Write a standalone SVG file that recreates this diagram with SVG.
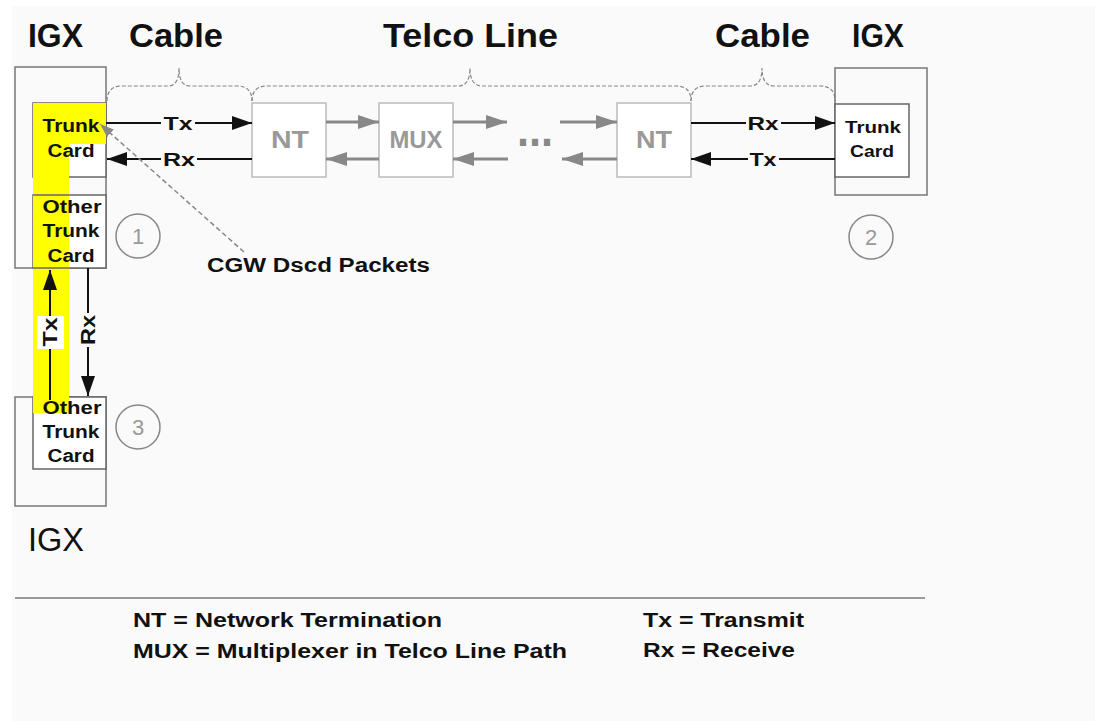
<svg xmlns="http://www.w3.org/2000/svg" width="1095" height="721" viewBox="0 0 1095 721">
<style>
text{font-family:"Liberation Sans",Arial,sans-serif;font-weight:bold;fill:#111}
.hdr{font-size:33px}
.card{font-size:18px;text-anchor:middle}
.lbl{font-size:19px;text-anchor:middle}
.vlbl{font-size:20px;text-anchor:middle}
.gtxt{font-size:24px;text-anchor:middle;fill:#999}
.num{font-size:22px;font-weight:normal;text-anchor:middle;fill:#999}
.leg{font-size:20px}
.outer{fill:none;stroke:#777;stroke-width:1.5}
.inner{fill:#fff;stroke:#666;stroke-width:1.5}
.tel{fill:#fff;stroke:#bbb;stroke-width:1.5}
.circ{fill:none;stroke:#888;stroke-width:1.5}
.brace{fill:none;stroke:#888;stroke-width:1.2;stroke-dasharray:4 2}
.blk{stroke:#111;stroke-width:2;fill:none}
.gry{stroke:#888;stroke-width:3;fill:none}
.bg{fill:#fafafa}
</style>
<defs>
<marker id="ab" markerUnits="userSpaceOnUse" markerWidth="20" markerHeight="14" refX="20" refY="7" orient="auto"><path d="M0,0 L20,7 L0,14 z" fill="#111"/></marker>
<marker id="ag" markerUnits="userSpaceOnUse" markerWidth="21" markerHeight="14" refX="21" refY="7" orient="auto"><path d="M0,0 L21,7 L0,14 z" fill="#888"/></marker>
<marker id="as" markerUnits="userSpaceOnUse" markerWidth="14" markerHeight="10" refX="14" refY="5" orient="auto"><path d="M0,0 L14,5 L0,10 z" fill="#888"/></marker>
</defs>
<rect x="0" y="0" width="1095" height="721" fill="#fff"/>
<rect x="12" y="6" width="1083" height="715" class="bg"/>

<g id="headers">
<text class="hdr" x="28" y="47" textLength="55" lengthAdjust="spacingAndGlyphs">IGX</text>
<text class="hdr" x="129" y="47" textLength="94" lengthAdjust="spacingAndGlyphs">Cable</text>
<text class="hdr" x="383" y="47" textLength="175" lengthAdjust="spacingAndGlyphs">Telco Line</text>
<text class="hdr" x="715" y="47" textLength="95" lengthAdjust="spacingAndGlyphs">Cable</text>
<text class="hdr" x="852" y="47" textLength="52" lengthAdjust="spacingAndGlyphs">IGX</text>
</g>

<g id="braces">
<path class="brace" d="M107,101 Q107,86 122,86 L168,86 Q179,86 179,68 Q179,86 190,86 L237,86 Q252,86 252,101"/>
<path class="brace" d="M252,101 Q252,86 267,86 L458,86 Q470,86 470,68 Q470,86 482,86 L676,86 Q691,86 691,101"/>
<path class="brace" d="M691,101 Q691,86 706,86 L750,86 Q762,86 762,68 Q762,86 774,86 L820,86 Q835,86 835,101"/>
</g>

<g id="igx1">
<rect class="outer" x="15" y="67" width="91" height="201"/>
<rect class="inner" x="33" y="103" width="73" height="74"/>
<rect class="inner" x="33" y="195" width="73" height="73"/>
</g>
<g id="igx3">
<rect class="outer" x="15" y="397" width="91" height="109"/>
<rect class="inner" x="33" y="397" width="73" height="72"/>
</g>
<g id="highlight">
<rect x="33" y="103" width="73" height="41" fill="#ffff00"/>
<rect x="33" y="144" width="36" height="269" fill="#ffff00"/>
<line x1="33" y1="195" x2="69" y2="195" stroke="#666" stroke-width="1.5"/>
<line x1="33" y1="268" x2="69" y2="268" stroke="#666" stroke-width="1.5"/>
</g>
<g id="igx1-text">
<text class="card" x="71" y="132" textLength="57" lengthAdjust="spacingAndGlyphs">Trunk</text>
<text class="card" x="71" y="157" textLength="47" lengthAdjust="spacingAndGlyphs">Card</text>
<text class="card" x="72" y="213" textLength="59" lengthAdjust="spacingAndGlyphs">Other</text>
<text class="card" x="71" y="237" textLength="57" lengthAdjust="spacingAndGlyphs">Trunk</text>
<text class="card" x="71" y="262" textLength="47" lengthAdjust="spacingAndGlyphs">Card</text>
</g>
<g id="igx3-text">
<text class="card" x="72" y="414" textLength="59" lengthAdjust="spacingAndGlyphs">Other</text>
<text class="card" x="71" y="438" textLength="57" lengthAdjust="spacingAndGlyphs">Trunk</text>
<text class="card" x="71" y="462" textLength="47" lengthAdjust="spacingAndGlyphs">Card</text>
<text x="28" y="551" style="font-size:33px;font-weight:normal" textLength="56" lengthAdjust="spacingAndGlyphs">IGX</text>
</g>

<g id="igx2">
<rect class="outer" x="835" y="68" width="92" height="127"/>
<rect class="inner" x="835" y="104" width="74" height="73"/>
<text class="card" x="873" y="133" style="font-size:17px" textLength="56" lengthAdjust="spacingAndGlyphs">Trunk</text>
<text class="card" x="872" y="157" style="font-size:17px" textLength="44" lengthAdjust="spacingAndGlyphs">Card</text>
</g>

<g id="nt1"><rect class="tel" x="252" y="103" width="74" height="74"/><text class="gtxt" x="290" y="148" textLength="38" lengthAdjust="spacingAndGlyphs">NT</text></g>
<g id="mux"><rect class="tel" x="379" y="103" width="74" height="74"/><text class="gtxt" x="416" y="148" textLength="53" lengthAdjust="spacingAndGlyphs">MUX</text></g>
<g id="nt2"><rect class="tel" x="617" y="103" width="74" height="74"/><text class="gtxt" x="654" y="148" textLength="36" lengthAdjust="spacingAndGlyphs">NT</text></g>
<g id="dots"><text x="517" y="146" style="font-size:48px;fill:#888" textLength="36" lengthAdjust="spacingAndGlyphs">...</text></g>

<g id="markers-num">
<circle class="circ" cx="138" cy="236" r="22"/><text class="num" x="138" y="244">1</text>
<circle class="circ" cx="871" cy="237" r="22"/><text class="num" x="871" y="245">2</text>
<circle class="circ" cx="138" cy="427" r="22"/><text class="num" x="138" y="435">3</text>
</g>

<g id="connectors">
<line class="blk" x1="106" y1="123" x2="252" y2="123" marker-end="url(#ab)"/>
<line class="blk" x1="252" y1="159" x2="107" y2="159" marker-end="url(#ab)"/>
<line class="gry" x1="326" y1="122" x2="379" y2="122" marker-end="url(#ag)"/>
<line class="gry" x1="379" y1="159" x2="326" y2="159" marker-end="url(#ag)"/>
<line class="gry" x1="453" y1="122" x2="507" y2="122" marker-end="url(#ag)"/>
<line class="gry" x1="508" y1="159" x2="453" y2="159" marker-end="url(#ag)"/>
<line class="gry" x1="560" y1="122" x2="617" y2="122" marker-end="url(#ag)"/>
<line class="gry" x1="617" y1="159" x2="562" y2="159" marker-end="url(#ag)"/>
<line class="blk" x1="691" y1="123" x2="835" y2="123" marker-end="url(#ab)"/>
<line class="blk" x1="835" y1="159" x2="691" y2="159" marker-end="url(#ab)"/>
<line class="blk" x1="50" y1="400" x2="50" y2="270" marker-end="url(#ab)"/>
<line class="blk" x1="88" y1="268" x2="88" y2="396" marker-end="url(#ab)"/>
<line x1="244" y1="252" x2="100" y2="124" stroke="#888" stroke-width="1.5" stroke-dasharray="5 3" marker-end="url(#as)"/>
</g>

<g id="connector-labels">
<rect x="161" y="113" width="34" height="20" class="bg"/>
<text class="lbl" x="178" y="130" textLength="29" lengthAdjust="spacingAndGlyphs">Tx</text>
<rect x="161" y="149" width="36" height="20" class="bg"/>
<text class="lbl" x="179" y="166" textLength="32" lengthAdjust="spacingAndGlyphs">Rx</text>
<rect x="746" y="113" width="35" height="20" class="bg"/>
<text class="lbl" x="763" y="130" textLength="31" lengthAdjust="spacingAndGlyphs">Rx</text>
<rect x="748" y="149" width="31" height="20" class="bg"/>
<text class="lbl" x="763" y="166" textLength="27" lengthAdjust="spacingAndGlyphs">Tx</text>
<rect x="37" y="316" width="27" height="33" fill="#fff"/>
<text class="vlbl" transform="translate(57,332) rotate(-90)" textLength="29" lengthAdjust="spacingAndGlyphs">Tx</text>
<rect x="78" y="313" width="20" height="34" class="bg"/>
<text class="vlbl" transform="translate(95,330) rotate(-90)" textLength="30" lengthAdjust="spacingAndGlyphs">Rx</text>
<text x="207" y="272" style="font-size:20px" textLength="223" lengthAdjust="spacingAndGlyphs">CGW Dscd Packets</text>
</g>

<g id="legend">
<line x1="15" y1="598" x2="925" y2="598" stroke="#999" stroke-width="2"/>
<text class="leg" x="133" y="627" textLength="309" lengthAdjust="spacingAndGlyphs">NT = Network Termination</text>
<text class="leg" x="133" y="658" textLength="434" lengthAdjust="spacingAndGlyphs">MUX = Multiplexer in Telco Line Path</text>
<text class="leg" x="643" y="627" textLength="161" lengthAdjust="spacingAndGlyphs">Tx = Transmit</text>
<text class="leg" x="643" y="657" textLength="152" lengthAdjust="spacingAndGlyphs">Rx = Receive</text>
</g>
</svg>
